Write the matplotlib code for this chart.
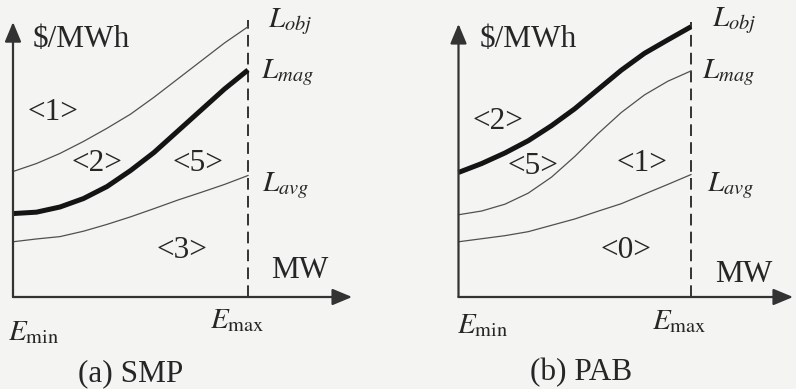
import matplotlib.pyplot as plt
import numpy as np

plt.rcParams['font.family'] = ['Liberation Serif', 'DejaVu Serif']
plt.rcParams['mathtext.fontset'] = 'stix'

W, H = 796, 389

# output levels between E_min (0) and E_max (10)
e = [0, 1, 2, 3, 4, 5, 6, 7, 8, 9, 10]

# (a) SMP
smp_obj = [5.34, 5.68, 6.11, 6.62, 7.18, 7.78, 8.50, 9.27, 10.04, 10.81, 11.50]
smp_mag = [3.55, 3.61, 3.83, 4.19, 4.70, 5.38, 6.15, 7.05, 7.95, 8.85, 9.66]
smp_avg = [2.35, 2.47, 2.57, 2.80, 3.09, 3.41, 3.76, 4.12, 4.45, 4.79, 5.17]

# (b) PAB
pab_obj = [5.30, 5.68, 6.13, 6.65, 7.29, 8.01, 8.83, 9.65, 10.37, 10.94, 11.50]
pab_mag = [3.50, 3.66, 3.95, 4.42, 5.10, 5.98, 6.95, 7.85, 8.60, 9.18, 9.62]
pab_avg = [2.35, 2.48, 2.61, 2.78, 3.05, 3.32, 3.65, 3.97, 4.38, 4.79, 5.21]

bg = '#f4f4f3'
ink = '#262626'
thin = dict(color='#505050', lw=0.9)
thick = dict(color='#141414', lw=3.6, solid_capstyle='butt')

fig = plt.figure(figsize=(W / 100, H / 100), dpi=100, facecolor=bg)


def panel(left, right, ox, oy, sx, sy):
    ax = fig.add_axes([left / W, 0, (right - left) / W, 1])
    ax.set_xlim((left - ox) / sx, (right - ox) / sx)
    ax.set_ylim((oy - H) / sy, oy / sy)
    ax.axis('off')
    return ax


def frame(ax, ytop, xtip, dtop):
    arrow = dict(arrowstyle='-|>,head_length=1.2,head_width=0.5',
                 color='#333333', lw=1.6, shrinkA=0, shrinkB=0)
    ax.annotate('', xy=(0, ytop), xytext=(0, 0), arrowprops=arrow)
    ax.annotate('', xy=(xtip, 0), xytext=(0, 0), arrowprops=arrow)
    ax.plot([10, 10], [0, dtop], color='#333333', lw=1.4, ls=(0, (6, 3.2)))


txt = dict(fontsize=22.5, color=ink, ha='center', va='center')
lab = dict(fontsize=21, color=ink, ha='left', va='center')

# ---- (a) SMP ----
ax1 = panel(0, 398, 13, 297, 23.5, 23.5)
frame(ax1, 11.7, 14.43, 11.79)
ax1.plot(e, smp_obj, **thin)
ax1.plot(e, smp_mag, **thick)
ax1.plot(e, smp_avg, **thin)

ax1.text(0.85, 10.95, '$/MWh', fontsize=22.5, color=ink, ha='left', va='center')
ax1.text(1.70, 7.87, '<1>', **txt)
ax1.text(3.57, 5.70, '<2>', **txt)
ax1.text(7.87, 5.66, '<5>', **txt)
ax1.text(7.19, 2.00, '<3>', **txt)
ax1.text(12.21, 1.11, 'MW', **txt)
ax1.text(10.85, 11.70, r'$L_{obj}$', **lab)
ax1.text(10.55, 9.55, r'$L_{mag}$', **lab)
ax1.text(10.60, 4.75, r'$L_{avg}$', **lab)
ax1.text(-0.21, -1.53, r'$E_{\mathrm{min}}$', **lab)
ax1.text(8.38, -1.02, r'$E_{\mathrm{max}}$', **lab)
ax1.text(5.02, -3.28, '(a) SMP', **txt)

# ---- (b) PAB ----
ax2 = panel(398, 796, 458.5, 297, 23.25, 23.5)
frame(ax2, 11.62, 14.39, 11.7)
ax2.plot(e, pab_obj, **thick)
ax2.plot(e, pab_mag, **thin)
ax2.plot(e, pab_avg, **thin)

ax2.text(0.92, 10.95, '$/MWh', fontsize=22.5, color=ink, ha='left', va='center')
ax2.text(1.70, 7.45, '<2>', **txt)
ax2.text(3.20, 5.57, '<5>', **txt)
ax2.text(7.89, 5.70, '<1>', **txt)
ax2.text(7.20, 2.00, '<0>', **txt)
ax2.text(12.28, 0.94, 'MW', **txt)
ax2.text(10.90, 11.75, r'$L_{obj}$', **lab)
ax2.text(10.47, 9.55, r'$L_{mag}$', **lab)
ax2.text(10.69, 4.75, r'$L_{avg}$', **lab)
ax2.text(-0.06, -1.23, r'$E_{\mathrm{min}}$', **lab)
ax2.text(8.32, -1.06, r'$E_{\mathrm{max}}$', **lab)
ax2.text(5.27, -3.23, '(b) PAB', **txt)

fig.savefig('out.png', dpi=100, facecolor=bg)
